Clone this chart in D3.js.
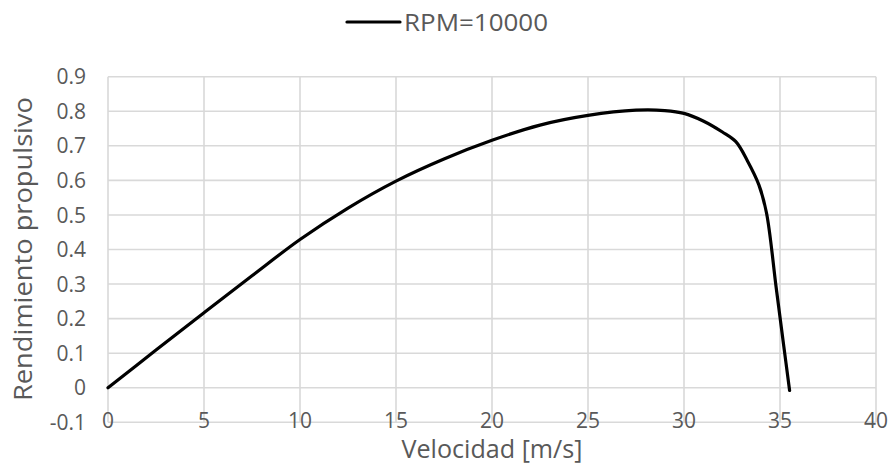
<!DOCTYPE html>
<html><head><meta charset="utf-8">
<script src="https://cdn.jsdelivr.net/npm/d3@7"></script>
<style>html,body{margin:0;padding:0;background:#fff;} svg{display:block;}</style>
</head><body>
<script>
const velocity = [0,2.5,5,7.5,10,12.5,15,17.5,20,22.5,25,27.5,29,30,31,32,32.7,33.3,33.9,34.3,34.8,35.2,35.5];
const efficiency = [0,0.109,0.217,0.324,0.429,0.520,0.598,0.662,0.716,0.760,0.788,0.803,0.802,0.794,0.772,0.740,0.712,0.657,0.587,0.505,0.29,0.119,-0.008];
const xTicks = [0,5,10,15,20,25,30,35,40];
const yTicks = [-0.1,0,0.1,0.2,0.3,0.4,0.5,0.6,0.7,0.8,0.9];
const seriesName = "RPM=10000";
const xTitle = "Velocidad [m/s]";
const yTitle = "Rendimiento propulsivo";

const W = 890, H = 464;
const font = "'Open Sans', sans-serif";
const txt = "#595959", grid = "#d9d9d9";
const svg = d3.select("body").append("svg").attr("width", W).attr("height", H);
const x = d3.scaleLinear().domain([0,40]).range([108,876]);
const y = d3.scaleLinear().domain([-0.1,0.9]).range([422.3,76.7]);

// gridlines
svg.append("g").selectAll("line").data(yTicks).join("line")
  .attr("x1", x(0)).attr("x2", x(40))
  .attr("y1", d => y(d)).attr("y2", d => y(d))
  .attr("stroke", grid).attr("stroke-width", 1.6);
svg.append("g").selectAll("line").data(xTicks).join("line")
  .attr("y1", y(-0.1)).attr("y2", y(0.9))
  .attr("x1", d => x(d)).attr("x2", d => x(d))
  .attr("stroke", grid).attr("stroke-width", 1.6);

// y tick labels
svg.append("g").selectAll("text").data(yTicks).join("text")
  .attr("x", 86).attr("y", d => y(d)).attr("dy", "0.36em")
  .attr("text-anchor", "end").attr("font-family", font).attr("font-size", 21).attr("fill", txt)
  .text(d => d3.format(".1~f")(d).replace("−","-"));
// x tick labels
svg.append("g").selectAll("text").data(xTicks).join("text")
  .attr("x", d => x(d)).attr("y", 420).attr("dy", "0.36em")
  .attr("text-anchor", "middle").attr("font-family", font).attr("font-size", 21).attr("fill", txt)
  .text(d => d);

// line
const line = d3.line().x((d,i) => x(velocity[i])).y(d => y(d)).curve(d3.curveCatmullRom.alpha(0.5));
svg.append("path").datum(efficiency).attr("d", line)
  .attr("fill", "none").attr("stroke", "#000").attr("stroke-width", 3.2).attr("stroke-linejoin","round").attr("stroke-linecap","round");

// axis titles
svg.append("text").attr("x", 492).attr("y", 458).attr("text-anchor","middle")
  .attr("font-family", font).attr("font-size", 25).attr("fill", txt)
  .attr("textLength", 181).attr("lengthAdjust","spacingAndGlyphs").text(xTitle);
svg.append("text").attr("transform", "translate(32,249) rotate(-90)").attr("text-anchor","middle")
  .attr("font-family", font).attr("font-size", 25).attr("fill", txt)
  .attr("textLength", 304).attr("lengthAdjust","spacingAndGlyphs").text(yTitle);

// legend
svg.append("line").attr("x1", 347).attr("x2", 400).attr("y1", 22).attr("y2", 22)
  .attr("stroke", "#000").attr("stroke-width", 3.2).attr("stroke-linecap","round");
svg.append("text").attr("x", 404).attr("y", 30.5)
  .attr("font-family", font).attr("font-size", 24).attr("fill", txt)
  .attr("textLength", 144).attr("lengthAdjust","spacingAndGlyphs").text(seriesName);
</script>
</body></html>
